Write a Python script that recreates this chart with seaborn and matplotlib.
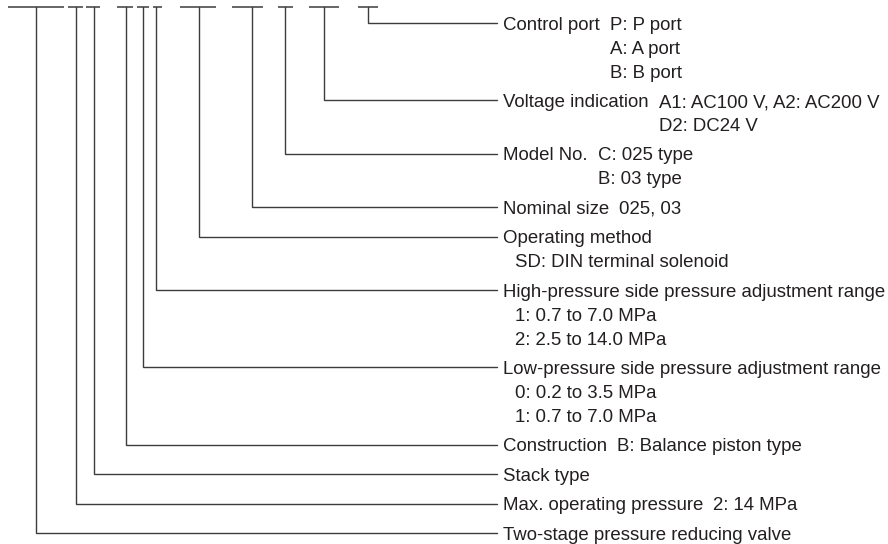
import matplotlib
matplotlib.use("Agg")
import matplotlib.pyplot as plt
import seaborn as sns

# ---------- data: fields of the model code, from last character to first ----------
field_names = [
    "Control port",
    "Voltage indication",
    "Model No.",
    "Nominal size",
    "Operating method",
    "High-pressure side pressure adjustment range",
    "Low-pressure side pressure adjustment range",
    "Construction",
    "Stack type",
    "Max. operating pressure",
    "Two-stage pressure reducing valve",
]
field_options = [
    ["P: P port", "A: A port", "B: B port"],
    ["A1: AC100 V, A2: AC200 V", "D2: DC24 V"],
    ["C: 025 type", "B: 03 type"],
    ["025, 03"],
    ["SD: DIN terminal solenoid"],
    ["1: 0.7 to 7.0 MPa", "2: 2.5 to 14.0 MPa"],
    ["0: 0.2 to 3.5 MPa", "1: 0.7 to 7.0 MPa"],
    ["B: Balance piston type"],
    [],
    ["2: 14 MPa"],
    [],
]
# options written next to the field name (True) or on the lines below it (False)
options_inline = [True, True, True, True, False, False, False, True, True, True, True]

# ---------- layout (pixels) ----------
W, H = 888, 544
slot_left = [8, 68, 86, 117, 137, 153, 180, 232, 278, 309, 358]   # code underlines, left to right
slot_width = [56, 15, 14, 16, 12, 9, 36, 31, 15, 30, 20]
leader_x = [36, 76, 94, 126, 143, 156, 199, 252, 285, 324, 368]  # vertical leaders, left to right
top_y = 7
first_row = 23
sub_step = 24
group_step = 29.4
line_end = 497
text_x = 503
indent = 12
gap = 10
cap_half = 6.7
line_color = "#3c3c3c"
text_color = "#231f20"

sns.set_theme(style="white")
plt.rcParams["font.family"] = ["Liberation Sans", "DejaVu Sans"]

fig = plt.figure(figsize=(W / 100, H / 100), dpi=100)
ax = fig.add_axes([0, 0, 1, 1])
ax.set_xlim(0, W)
ax.set_ylim(H, 0)
ax.axis("off")

# row positions of each field
row_y = []
y = first_row
for i, opts in enumerate(field_options):
    if i > 0:
        y += group_step
    row_y.append(y)
    n_lines = max(1, len(opts)) if options_inline[i] else 1 + len(opts)
    y += (n_lines - 1) * sub_step

n = len(field_names)
# underline slots at the top
for left, w in zip(slot_left, slot_width):
    ax.plot([left, left + w], [top_y, top_y], color=line_color, lw=1.1,
            solid_capstyle="butt")

renderer = fig.canvas.get_renderer()
fs = 13.4
for i, name in enumerate(field_names):
    lx = leader_x[n - 1 - i]
    ry = row_y[i]
    ax.plot([lx, lx, line_end], [top_y, ry, ry], color=line_color, lw=1.0,
            solid_joinstyle="miter")
    t = ax.text(text_x, ry + cap_half, name, fontsize=fs, color=text_color,
                va="baseline", ha="left")
    opts = field_options[i]
    if options_inline[i]:
        bb = t.get_window_extent(renderer)
        ox = bb.x1 + gap
        for j, o in enumerate(opts):
            ax.text(ox, ry + j * sub_step + cap_half, o, fontsize=fs,
                    color=text_color, va="baseline", ha="left")
    else:
        for j, o in enumerate(opts):
            ax.text(text_x + indent, ry + (j + 1) * sub_step + cap_half, o,
                    fontsize=fs, color=text_color, va="baseline", ha="left")

fig.savefig("out.png", dpi=100)
